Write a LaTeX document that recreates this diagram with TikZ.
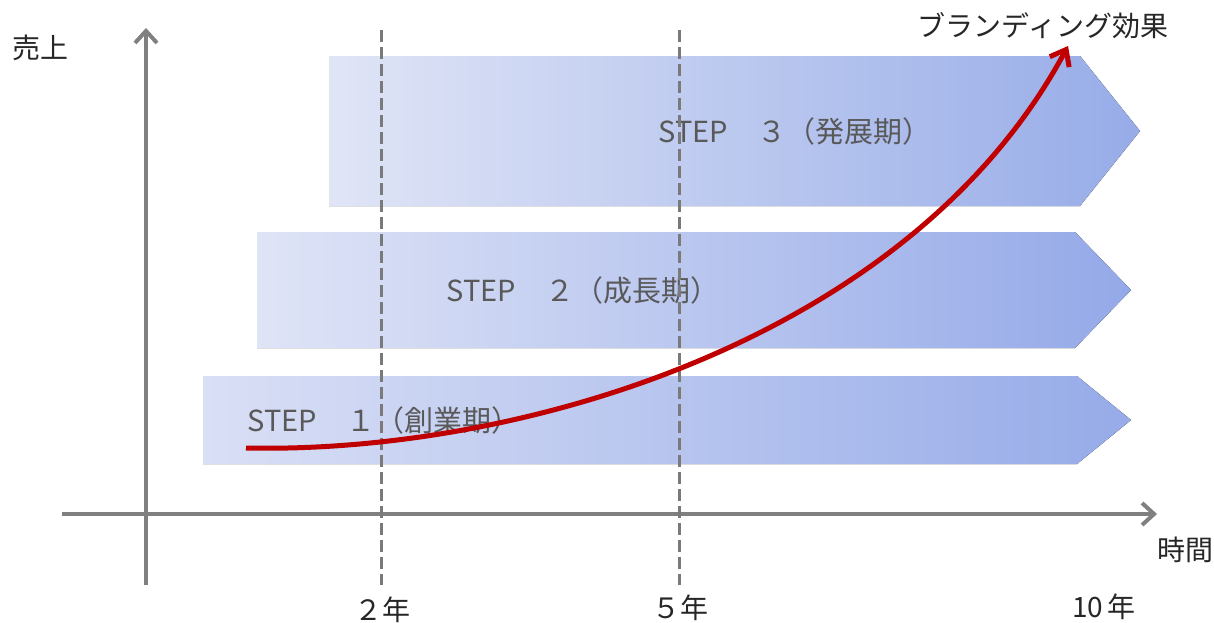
\documentclass[tikz,border=0pt]{standalone}
\usepackage{fontspec}
\newfontfamily\jp{Noto Sans CJK JP}
\usetikzlibrary{arrows.meta}
\definecolor{axisgray}{HTML}{808080}
\definecolor{dashgray}{HTML}{7A7A7A}
\definecolor{steptext}{HTML}{595959}
\definecolor{curvered}{HTML}{C00000}
\definecolor{sAl}{HTML}{E0E5F6}\definecolor{sAm}{HTML}{CFD8F3}\definecolor{sAr}{HTML}{97ACE8}
\definecolor{sBl}{HTML}{DFE4F6}\definecolor{sBm}{HTML}{B9C6EE}\definecolor{sBr}{HTML}{94A9E8}
\definecolor{sCl}{HTML}{D9DFF5}\definecolor{sCm}{HTML}{B2C0ED}\definecolor{sCr}{HTML}{96ABE8}
\tikzset{
  axis/.style={draw=axisgray, line width=2pt, -{Straight Barb[length=6pt,width=11pt]}},
  guide/.style={draw=dashgray, line width=1.5pt, dash pattern=on 6pt off 2.5pt},
  label/.style={font=\jp\fontsize{14pt}{16pt}\selectfont, text=black!85, inner sep=0pt},
  steplabel/.style={font=\jp\fontsize{14.5pt}{16pt}\selectfont, text=steptext, inner sep=0pt},
  growth/.style={draw=curvered, line width=2.5pt, -{Straight Barb[length=7pt,width=11pt]}}
}
\begin{document}
\begin{tikzpicture}[x=0.5pt,y=-0.5pt]
\useasboundingbox (0,0) rectangle (1214,622);
% step arrows
\fill[left color=sAl, middle color=sAm, right color=sAr]
  (329,56) -- (1080,56) -- (1140,131) -- (1080,206) -- (329,206) -- cycle;
\fill[left color=sBl, middle color=sBm, right color=sBr]
  (257,232) -- (1075,232) -- (1131,290) -- (1075,348) -- (257,348) -- cycle;
\fill[left color=sCl, middle color=sCm, right color=sCr]
  (203,376) -- (1077,376) -- (1131,420) -- (1077,464) -- (203,464) -- cycle;
% step labels
\node[steplabel] (s3) at (795,131) {STEP　３（発展期）};
\node[steplabel] (s2) at (583,290) {STEP　２（成長期）};
\node[steplabel] (s1) at (384,420) {STEP　１（創業期）};
% axes
\coordinate (ybot) at (146,585);
\coordinate (ytop) at (146,28);
\coordinate (xl) at (62,514);
\coordinate (xr) at (1157,514);
\draw[axis] (ybot) -- (ytop);
\draw[axis] (xl) -- (xr);
% guides
\coordinate (g2t) at (381,30);
\coordinate (g2b) at (381,585);
\coordinate (g5t) at (679,30);
\coordinate (g5b) at (679,585);
\draw[guide] (g2t) -- (g2b);
\draw[guide] (g5t) -- (g5b);
% labels
\node[label] (sales) at (40,48) {売上};
\node[label] (time) at (1185,550) {時間};
\node[label] (y2) at (382,610) {２年};
\node[label] (y5) at (680,608) {５年};
\node[label] (y10) at (1104,607) {10\,年};
\node[label] (brand) at (1043,26) {ブランディング効果};
% growth curve
\coordinate (cs) at (246,448);
\coordinate (ce) at (1068,46);
\draw[growth] (cs) .. controls (520,454) and (910,340) .. (ce);
\end{tikzpicture}
\end{document}
